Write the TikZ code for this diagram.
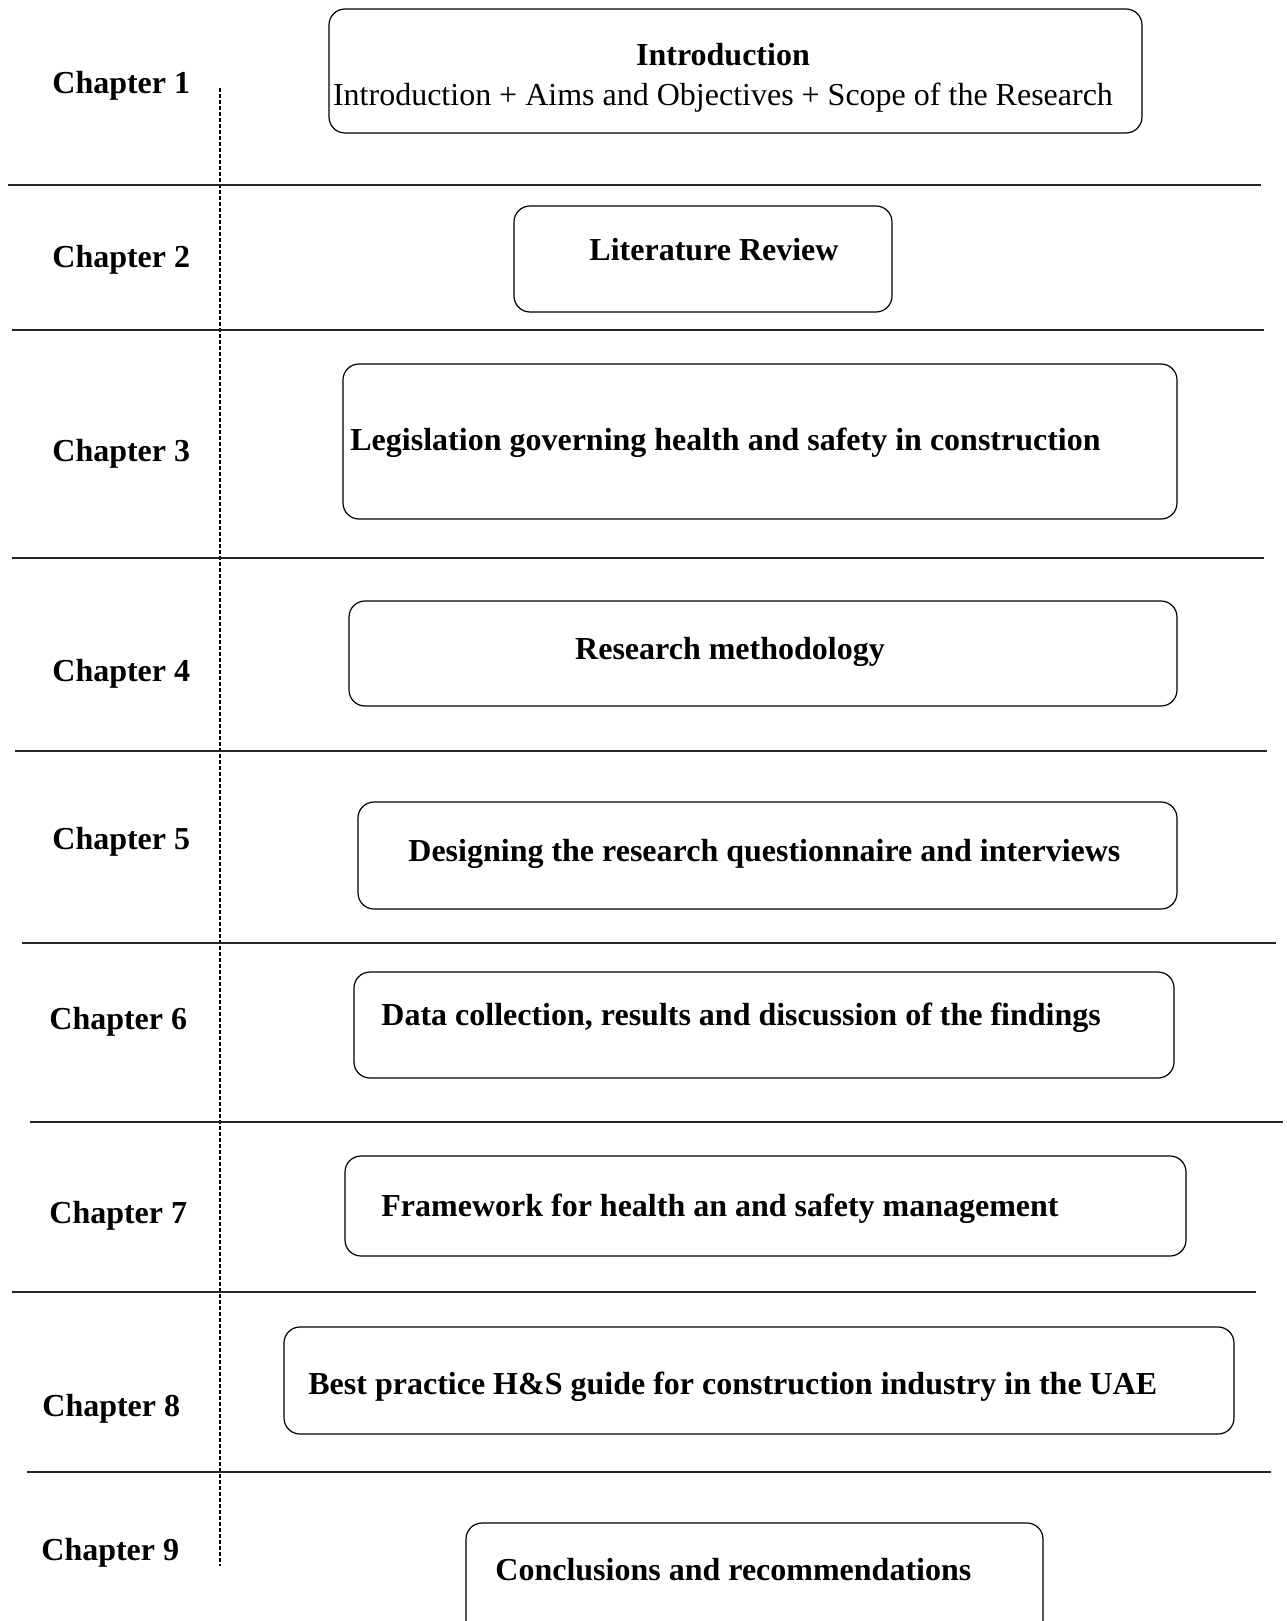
\documentclass[tikz,border=0pt]{standalone}
\usepackage{fontspec}
\setmainfont{Liberation Serif}
\usetikzlibrary{fit}

\tikzset{
  chapbox/.style={
    draw,
    rounded corners=8pt,
    line width=0.6pt,
    inner sep=0pt
  },
  boxtext/.style={
    font=\fontsize{16}{19}\selectfont\bfseries,
    inner sep=0pt
  },
  chaplabel/.style={
    font=\fontsize{16}{19}\selectfont\bfseries,
    anchor=west,
    inner sep=0pt
  },
  rowline/.style={
    line width=0.7pt,
    color=black!85
  },
  timeline/.style={
    line width=1.1pt,
    dash pattern=on 2pt off 1pt
  }
}

\begin{document}
\begin{tikzpicture}[x=0.5pt,y=-0.5pt]
  \useasboundingbox (0,0) rectangle (1286,1621);
  \clip (0,0) rectangle (1286,1621);

  % chapter labels
  \node[chaplabel] (c1) at (52,86) {Chapter 1};
  \node[chaplabel] (c2) at (52,260) {Chapter 2};
  \node[chaplabel] (c3) at (52,454) {Chapter 3};
  \node[chaplabel] (c4) at (52,674) {Chapter 4};
  \node[chaplabel] (c5) at (52,842) {Chapter 5};
  \node[chaplabel] (c6) at (49,1022) {Chapter 6};
  \node[chaplabel] (c7) at (49,1216) {Chapter 7};
  \node[chaplabel] (c8) at (42,1409) {Chapter 8};
  \node[chaplabel] (c9) at (41,1553) {Chapter 9};

  % dashed divider
  \coordinate (top) at (220,88);
  \coordinate (bot) at (220,1566);
  \draw[timeline] (top) -- (bot);

  % row separators
  \draw[rowline] (8,185) -- (1261,185);
  \draw[rowline] (12,330) -- (1264,330);
  \draw[rowline] (12,558) -- (1264,558);
  \draw[rowline] (15,751) -- (1267,751);
  \draw[rowline] (22,943) -- (1276,943);
  \draw[rowline] (30,1122) -- (1283,1122);
  \draw[rowline] (12,1292) -- (1256,1292);
  \draw[rowline] (27,1472) -- (1271,1472);

  % chapter boxes
  \node[chapbox,fit={(329,9) (1142,133)}] (b1) {};
  \node[chapbox,fit={(514,206) (892,312)}] (b2) {};
  \node[chapbox,fit={(343,364) (1177,519)}] (b3) {};
  \node[chapbox,fit={(349,601) (1177,706)}] (b4) {};
  \node[chapbox,fit={(358,802) (1177,909)}] (b5) {};
  \node[chapbox,fit={(354,972) (1174,1078)}] (b6) {};
  \node[chapbox,fit={(345,1156) (1186,1256)}] (b7) {};
  \node[chapbox,fit={(284,1327) (1234,1434)}] (b8) {};
  \node[chapbox,fit={(466,1523) (1043,1690)}] (b9) {};

  \node[boxtext,align=center] (t1) at (723,78)
    {Introduction\\[1pt]
     \mdseries Introduction + Aims and Objectives + Scope of the Research};
  \node[boxtext] (t2) at (714,250) {Literature Review};
  \node[boxtext,anchor=west] (t3) at (350,443)
    {Legislation governing health and safety in construction};
  \node[boxtext] (t4) at (730,652) {Research methodology};
  \node[boxtext,anchor=west] (t5) at (408,854)
    {Designing the research questionnaire and interviews};
  \node[boxtext,anchor=west] (t6) at (381,1018)
    {Data collection, results and discussion of the findings};
  \node[boxtext,anchor=west] (t7) at (381,1209)
    {Framework for health an and safety management};
  \node[boxtext,anchor=west] (t8) at (308,1387)
    {Best practice H\&S guide for construction industry in the UAE};
  \node[boxtext,anchor=west] (t9) at (495,1570)
    {Conclusions and recommendations};
\end{tikzpicture}
\end{document}
